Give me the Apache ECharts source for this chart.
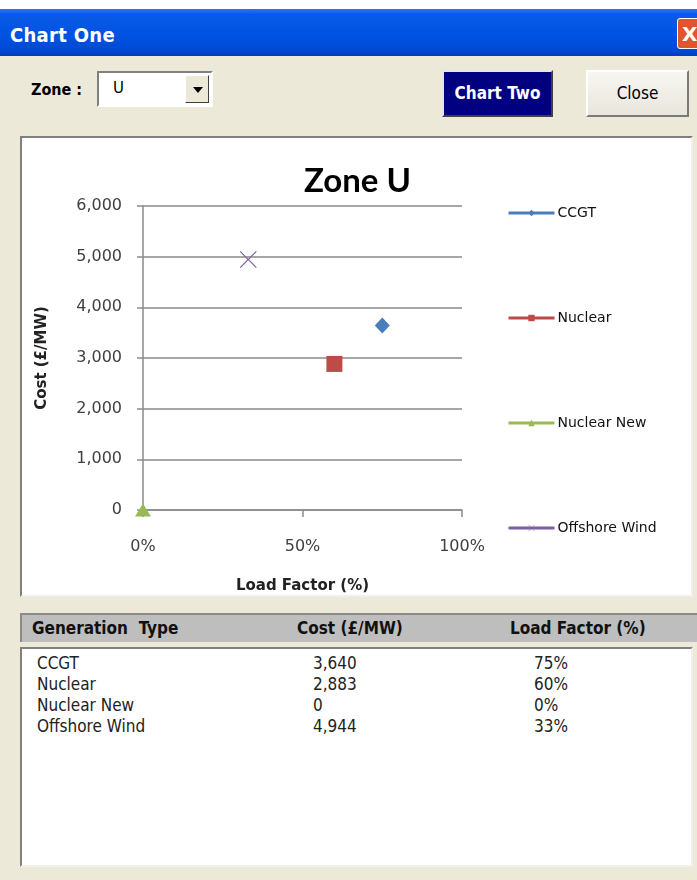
<!DOCTYPE html>
<html lang="en">
<head>
<meta charset="utf-8">
<title>Chart One</title>
<style>
  body { margin: 0; width: 697px; height: 880px; background: #ECE9D8; position: relative; overflow: hidden; font-family: "DejaVu Sans", sans-serif; }
  .abs { position: absolute; }
  #strip { left: 0; top: 0; width: 697px; height: 9px; background: #fff; }
  #titlebar { left: 0; top: 9px; width: 697px; height: 47px;
    background: linear-gradient(#2a74f0 0%, #0a5ae6 12%, #0054e3 50%, #0049d6 88%, #003cb4 100%); }
  #titletext { left: 10px; top: 23px; color: #fff; font: bold 20px "Liberation Sans Narrow", "DejaVu Sans Condensed", sans-serif; letter-spacing: 0.3px; }
  #xbtn { left: 677px; top: 18px; width: 28px; height: 31px; background: #e0552c; border: 1px solid #fff; border-radius: 3px; color: #fff; font: bold 20px "DejaVu Sans", sans-serif; line-height: 30px; padding-left: 4px; box-sizing: border-box; }
  #zonelbl { left: 31px; top: 80px; font: bold 16px "Liberation Sans Narrow", "DejaVu Sans Condensed", sans-serif; }
  #combo { left: 97px; top: 71px; width: 116px; height: 36px; background: #fff; border: 2px solid; border-color: #808080 #fff #fff #808080; box-sizing: border-box; }
  #combo span { position: absolute; left: 14px; top: 6px; font: 15px "DejaVu Sans", sans-serif; }
  #arrow { right: 2px; top: 2px; width: 24px; height: 28px; background: #ECE9D8; border: 1px solid; border-color: #fff #404040 #404040 #fff; box-sizing: border-box; }
  #arrow:after { content: ""; position: absolute; left: 7px; top: 11px; border-left: 5px solid transparent; border-right: 5px solid transparent; border-top: 6px solid #000; }
  .btn { top: 70px; height: 47px; box-sizing: border-box; text-align: center; }
  #btn2 { left: 442px; width: 111px; background: #000080; color: #fff; border: 2px solid; border-color: #e6e6e6 #404040 #404040 #e6e6e6; font: bold 17px "Liberation Sans Narrow", "DejaVu Sans Condensed", sans-serif; line-height: 43px; }
  #btnclose { left: 586px; width: 103px; background: linear-gradient(#f7f6f1, #e8e6dc); color: #000; border: 2px solid; border-color: #fff #7a7a7a #7a7a7a #fff; font: 17px "Liberation Sans Narrow", "DejaVu Sans Condensed", sans-serif; line-height: 43px; }
  #panel { left: 20px; top: 136px; width: 673px; height: 461px; background: #fff; border: 2px solid; border-color: #808080 #f2f0e8 #f2f0e8 #808080; box-sizing: border-box; }
  #thead { left: 20px; top: 613px; width: 677px; height: 29px; background: #bebebe; border-top: 2px solid #8a8a8a; border-left: 2px solid #8a8a8a; box-sizing: border-box; font: bold 17px "Liberation Sans Narrow", "DejaVu Sans Condensed", sans-serif; color: #111; }
  #thead div { position: absolute; top: 3px; }
  #list { left: 20px; top: 647px; width: 673px; height: 220px; background: #fff; border: 2px solid; border-color: #808080 #f2f0e8 #f2f0e8 #808080; box-sizing: border-box; font: 17px "Liberation Sans Narrow", "DejaVu Sans Condensed", sans-serif; color: #222; }
  #list div { position: absolute; }
  #main { left: 0; top: 0; width: 697px; height: 880px; pointer-events: none; }
</style>
</head>
<body>
<div id="strip" class="abs"></div>
<div id="titlebar" class="abs"></div>
<div id="titletext" class="abs">Chart One</div>
<div id="xbtn" class="abs">X</div>
<div id="zonelbl" class="abs">Zone :</div>
<div id="combo" class="abs"><span>U</span><div id="arrow" class="abs"></div></div>
<div id="btn2" class="abs btn">Chart Two</div>
<div id="btnclose" class="abs btn">Close</div>
<div id="panel" class="abs"></div>
<div id="thead" class="abs">
  <div style="left:10px">Generation&nbsp; Type</div>
  <div style="left:275px">Cost (£/MW)</div>
  <div style="left:488px">Load Factor (%)</div>
</div>
<div id="list" class="abs"></div>
<div id="main" class="abs"></div>

<script src="https://cdn.jsdelivr.net/npm/echarts@6/dist/echarts.min.js"></script>
<script>
  var zone = 'U';
  var genTypes = ['CCGT', 'Nuclear', 'Nuclear New', 'Offshore Wind'];
  var costs = [3640, 2883, 0, 4944];
  var loadFactors = [0.75, 0.60, 0, 0.33];
  var colors = ['#4a7ebb', '#be4b48', '#98b954', '#7d60a0'];

  var crossPath = 'path://M0,1 L1,0 L10,9 L19,0 L20,1 L11,10 L20,19 L19,20 L10,11 L1,20 L0,19 L9,10 Z';
  var symbols = ['diamond', 'rect', 'triangle', crossPath];
  var symbolSizes = [[15, 16], 16, [16, 13], 17];

  function commas(v) {
    return String(v).replace(/\B(?=(\d{3})+(?!\d))/g, ',');
  }
  function pct(v) {
    return Math.round(v * 100) + '%';
  }

  // table under the chart
  var list = document.getElementById('list');
  var rows = '';
  for (var i = 0; i < genTypes.length; i++) {
    var y = 4 + i * 21;
    rows += '<div style="left:15px;top:' + y + 'px">' + genTypes[i] + '</div>' +
            '<div style="left:291px;top:' + y + 'px">' + commas(costs[i]) + '</div>' +
            '<div style="left:512px;top:' + y + 'px">' + pct(loadFactors[i]) + '</div>';
  }
  list.innerHTML = rows;

  var myChart = echarts.init(document.getElementById('main'));

  var gridColor = '#8a8a8a';
  var labelFont = { fontFamily: 'DejaVu Sans', fontSize: 16, color: '#404040' };
  var nameFont = { fontFamily: 'DejaVu Sans', fontSize: 15, fontWeight: 'bold', color: '#222' };

  var option = {
    animation: false,
    title: {
      text: 'Zone ' + zone,
      left: 299,
      top: 160,
      textStyle: { fontFamily: 'Lato', fontWeight: 'bold', fontSize: 33, color: '#000' }
    },
    legend: {
      orient: 'vertical',
      left: 502,
      top: 201,
      itemWidth: 46,
      itemHeight: 8,
      itemGap: 91,
      lineStyle: { width: 3 },
      textStyle: { fontFamily: 'DejaVu Sans', fontSize: 14, color: '#111', padding: [0, 0, 0, -2] },
      data: genTypes
    },
    grid: { left: 143, top: 206, width: 319, height: 304 },
    xAxis: {
      type: 'value',
      min: 0,
      max: 1,
      interval: 0.5,
      name: 'Load Factor (%)',
      nameLocation: 'middle',
      nameGap: 69,
      nameTextStyle: nameFont,
      axisLine: { show: true, lineStyle: { color: gridColor, width: 1.5 } },
      axisTick: { show: true, length: 7, lineStyle: { color: gridColor, width: 1.5 } },
      splitLine: { show: false },
      axisLabel: Object.assign({ margin: 29, formatter: pct }, labelFont)
    },
    yAxis: {
      type: 'value',
      min: 0,
      max: 6000,
      interval: 1000,
      name: 'Cost (£/MW)',
      nameLocation: 'middle',
      nameGap: 93,
      nameTextStyle: nameFont,
      axisLine: { show: true, lineStyle: { color: gridColor, width: 1.5 } },
      axisTick: { show: true, length: 6, lineStyle: { color: gridColor, width: 1.5 } },
      splitLine: { show: true, lineStyle: { color: gridColor, width: 1.5 } },
      axisLabel: Object.assign({ margin: 21, formatter: commas }, labelFont)
    },
    series: genTypes.map(function (name, i) {
      return {
        name: name,
        type: 'line',
        clip: false,
        data: [[loadFactors[i], costs[i]]],
        symbol: symbols[i],
        symbolSize: symbolSizes[i],
        itemStyle: { color: colors[i] },
        lineStyle: { color: colors[i], width: 3 }
      };
    })
  };

  myChart.setOption(option);
</script>
</body>
</html>
